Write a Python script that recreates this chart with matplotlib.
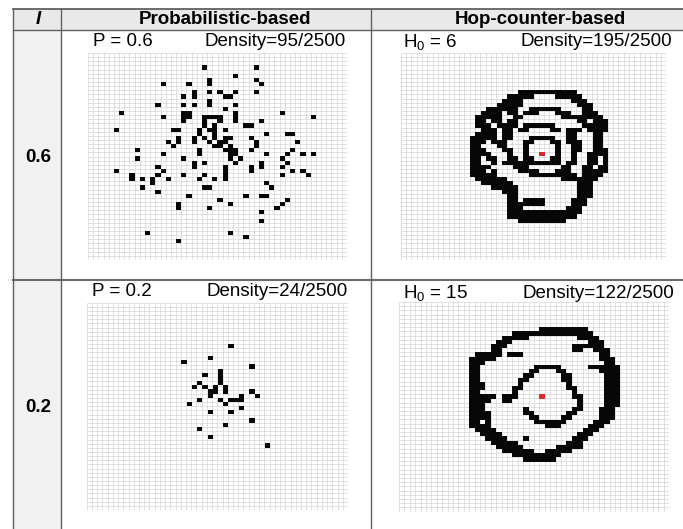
import matplotlib
matplotlib.use('Agg')
import matplotlib.pyplot as plt
import numpy as np
from matplotlib.lines import Line2D
from matplotlib.patches import Rectangle

plt.rcParams['font.family'] = ['Liberation Sans', 'DejaVu Sans']
plt.rcParams['mathtext.fontset'] = 'custom'
plt.rcParams['mathtext.rm'] = 'Liberation Sans'
plt.rcParams['mathtext.it'] = 'Liberation Sans:italic'

# ---------------- data ----------------
col_headers = ["Probabilistic-based", "Hop-counter-based"]
row_labels = ["0.6", "0.2"]
param_labels = [["P = 0.6", "H$_0$ = 6"], ["P = 0.2", "H$_0$ = 15"]]
density_labels = [["Density=95/2500", "Density=195/2500"],
                  ["Density=24/2500", "Density=122/2500"]]
GRID_N = 50

# probabilistic P=0.6 : (col, row) of forwarding nodes
tl_cells = [(22,3),(14,7),(19,7),(23,6),(23,7),(23,9),(20,9),(20,10),(18,10),(13,12),(18,12),
            (20,12),(23,11),(23,12),(6,14),(14,15),(18,14),(19,14),(18,15),(19,15),(18,16),(5,18),
            (16,18),(17,18),(15,21),(16,22),(17,20),(17,21),(20,20),(20,21),(9,23),(9,25),(14,24),
            (18,25),(21,23),(21,24),(22,26),(20,26),(20,27),(5,28),(8,29),(8,30),(10,30),(13,27),
            (14,28),(13,29),(12,30),(15,30),(10,32),(12,31),(13,33),(18,29),(21,30),(22,32),(23,32),
            (22,29),(19,34),(23,37),(17,36),(17,37),(11,43),(17,45),
            (32,3),(28,5),(32,6),(33,7),(25,9),(26,10),(27,10),(28,9),(32,9),(28,12),(26,13),(37,14),
            (43,15),(28,14),(28,15),(28,16),(25,15),(25,16),(24,15),(33,16),(30,17),(31,17),(34,19),
            (38,19),(39,19),(40,21),(31,20),(32,21),(32,22),(31,23),(39,23),(38,24),(34,24),(41,24),
            (43,24),(37,25),(38,26),(37,27),(39,28),(41,28),(42,29),(37,29),(33,26),(33,27),(31,27),
            (31,28),(34,31),(35,32),(30,34),(33,34),(34,34),(38,35),(37,36),(36,37),(33,38),(33,40),
            (27,36),(25,35),(27,43),(30,44),(26,28),(26,29),(26,30),(24,30),(26,27),
            (22,15),(23,15),(22,16),(22,17),(24,17),(21,18),(23,18),(24,18),(26,18),(21,19),(24,19),
            (22,20),(24,20),(26,20),(27,20),(23,21),(25,21),(26,21),(24,22),(25,22),(27,22),(26,23),
            (27,23),(28,23),(27,24),(28,24),(27,25),(29,25),(28,26)]

# probabilistic P=0.2
bl_cells = [(27,10),(23,13),(18,14),(31,15),(25,16),(25,17),(22,17),(25,18),(25,19),(21,19),
            (24,20),(26,20),(20,20),(22,20),(24,21),(26,21),(23,21),(31,21),(23,22),(29,22),(32,22),
            (21,23),(27,23),(28,23),(29,23),(19,24),(25,23),(26,24),(29,25),(23,26),(27,26),(31,28),
            (26,29),(21,30),(23,32),(34,34)]

# hop-counter H0=6 : row -> runs of columns
tr_runs = {
    9: [(22,32)], 10: [(20,24),(29,33)], 11: [(19,22),(32,34)], 12: [(18,22),(33,35)],
    13: [(16,21),(24,29),(34,35)], 14: [(15,18),(20,21),(23,25),(29,31),(34,36)],
    15: [(14,18),(21,22),(30,37)], 16: [(14,15),(17,18),(20,21),(33,34),(36,38)],
    17: [(14,16),(18,21),(23,28),(34,38)], 18: [(15,17),(19,20),(22,23),(28,29),(31,33),(35,38)],
    19: [(14,17),(19,20),(31,32),(36,37)], 20: [(13,17),(19,20),(24,28),(31,32),(36,37)],
    21: [(13,15),(17,19),(23,24),(28,29),(31,33),(36,37)], 22: [(13,14),(18,19),(23,23),(29,29),(32,33),(36,37)],
    23: [(13,15),(19,20),(23,23),(29,29),(32,33),(36,38)], 24: [(13,16),(20,20),(23,23),(29,29),(32,32),(35,38)],
    25: [(13,14),(16,17),(20,21),(23,24),(28,29),(32,32),(35,36),(38,38)],
    26: [(13,14),(17,17),(19,29),(31,32),(35,36),(38,38)],
    27: [(13,16),(21,23),(30,31),(34,35),(37,38)], 28: [(13,15),(17,17),(22,25),(29,31),(34,38)],
    29: [(13,17),(24,32),(34,37)], 30: [(14,19),(30,36)], 31: [(15,20),(33,35)],
    32: [(17,21),(33,35)], 33: [(19,21),(33,35)], 34: [(20,21),(33,35)],
    35: [(20,21),(23,26),(32,34)], 36: [(20,26),(32,34)], 37: [(20,22),(31,33)],
    38: [(20,33)], 39: [(20,32)], 40: [(22,30)],
}
tr_source = (26, 24)

# hop-counter H0=15
br_runs = {
    6: [(26,34)], 7: [(21,35)], 8: [(19,23),(33,36)], 9: [(18,20),(35,37)],
    10: [(17,19),(32,37)], 11: [(17,18),(32,33),(36,38)], 12: [(14,18),(20,22),(37,38)],
    13: [(13,17),(37,39)], 14: [(13,15),(38,39)], 15: [(13,14),(25,29),(35,40)],
    16: [(13,14),(24,25),(29,30),(37,40)], 17: [(13,14),(23,24),(30,31),(38,40)],
    18: [(13,14),(22,23),(30,31),(38,40)], 19: [(13,15),(22,22),(31,31),(38,40)],
    20: [(13,15),(21,22),(31,32),(38,40)], 21: [(13,14),(21,21),(32,32),(38,40)],
    22: [(13,17),(19,21),(32,33),(38,40)], 23: [(13,16),(19,20),(33,33),(38,40)],
    24: [(13,15),(33,33),(38,40)], 25: [(13,15),(23,23),(32,33),(37,39)],
    26: [(13,16),(23,24),(31,32),(37,39)], 27: [(13,16),(24,25),(30,31),(37,39)],
    28: [(13,14),(16,16),(25,30),(36,38)], 29: [(13,16),(27,29),(35,37)], 30: [(14,17),(34,36)],
    31: [(15,18),(33,35)], 32: [(16,19),(23,23),(32,34)], 33: [(17,21),(31,33)],
    34: [(18,22),(29,33)], 35: [(19,24),(27,31)], 36: [(21,29)], 37: [(23,28)],
}
br_source = (26, 22)

# ---------------- figure ----------------
W, H = 683, 529
fig = plt.figure(figsize=(W/100, H/100), dpi=100)

def fx(x): return x / W
def fy(y): return 1 - y / H

LINE = '#606060'

# backgrounds
fig.add_artist(Rectangle((fx(12.7), fy(30)), fx(683) - fx(12.7), fy(9) - fy(30),
                         transform=fig.transFigure, facecolor='#e9e9e9', edgecolor='none', zorder=0))
fig.add_artist(Rectangle((fx(12.7), fy(529)), fx(61) - fx(12.7), fy(30) - fy(529),
                         transform=fig.transFigure, facecolor='#f1f1f1', edgecolor='none', zorder=0))

def hline(y, x0, x1, lw=1.0, c=LINE):
    fig.add_artist(Line2D([fx(x0), fx(x1)], [fy(y), fy(y)], transform=fig.transFigure, color=c, lw=lw))

def vline(x, y0, y1, lw=1.0, c=LINE):
    fig.add_artist(Line2D([fx(x), fx(x)], [fy(y0), fy(y1)], transform=fig.transFigure, color=c, lw=lw))

hline(9, 12.7, 683, 1.3)
hline(30, 12.7, 683, 1.0)
hline(280, 12.7, 683, 1.5, '#6a6a6a')
vline(12.7, 9, 529)
vline(61, 9, 529)
vline(371, 9, 529)

# header texts
fig.text(fx(38), fy(20), "I", ha='center', va='center', fontsize=13.5, fontweight='bold', style='italic')
fig.text(fx(225), fy(20), col_headers[0], ha='center', va='center', fontsize=13.5, fontweight='bold')
fig.text(fx(540), fy(20), col_headers[1], ha='center', va='center', fontsize=13.5, fontweight='bold')
fig.text(fx(38), fy(157), row_labels[0], ha='center', va='center', fontsize=13.5, fontweight='bold')
fig.text(fx(38), fy(408), row_labels[1], ha='center', va='center', fontsize=13.5, fontweight='bold')

# panel label positions (left x of param, right x of density, center y)
label_pos = [[(93, 346, 42), (403, 672, 42)], [(92, 348, 292), (403, 674, 293)]]
for i in range(2):
    for j in range(2):
        xl, xr, yc = label_pos[i][j]
        fig.text(fx(xl), fy(yc), param_labels[i][j], ha='left', va='center', fontsize=13.5)
        fig.text(fx(xr), fy(yc), density_labels[i][j], ha='right', va='center', fontsize=13.5)

def runs_to_cells(runs):
    cells = []
    for r, segs in runs.items():
        for a, b in segs:
            for c in range(a, b + 1):
                cells.append((c, r))
    return cells

def draw_panel(box, cells, source=None):
    x0, y0, x1, y1 = box
    ax = fig.add_axes([fx(x0), fy(y1), fx(x1) - fx(x0), fy(y0) - fy(y1)])
    img = np.zeros((GRID_N, GRID_N, 4))
    for c, r in cells:
        img[r, c] = (0.03, 0.03, 0.03, 1)
    if source is not None:
        img[source[1], source[0]] = (0.87, 0.17, 0.17, 1)
    ticks = np.arange(GRID_N + 1)
    ax.vlines(ticks, 0, GRID_N, colors='#d4d4d4', lw=0.5, zorder=1)
    ax.hlines(ticks, 0, GRID_N, colors='#d4d4d4', lw=0.5, zorder=1)
    ax.imshow(img, extent=(0, GRID_N, GRID_N, 0), aspect='auto', interpolation='nearest', zorder=2)
    ax.set_xlim(0, GRID_N)
    ax.set_ylim(GRID_N, 0)
    ax.axis('off')

draw_panel((88, 53, 347, 260), tl_cells)
draw_panel((400.7, 53, 666.3, 260), runs_to_cells(tr_runs), tr_source)
draw_panel((86.7, 302.7, 348, 510), bl_cells)
draw_panel((399, 302, 669, 511.5), runs_to_cells(br_runs), br_source)

fig.savefig('out.png', dpi=100)
